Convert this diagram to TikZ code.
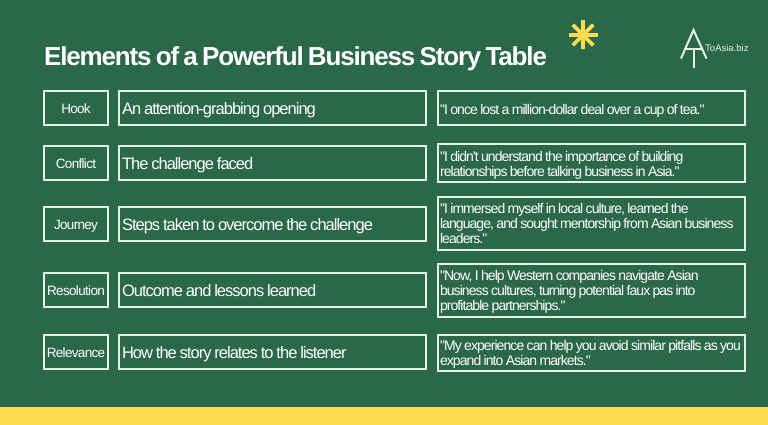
\documentclass[tikz,border=0pt]{standalone}
\usepackage{fontspec}
\setmainfont{Liberation Sans}
\newfontfamily\titlefont[LetterSpace=-4.5,WordSpace=0.7]{Liberation Sans Bold}
\newfontfamily\midfont[LetterSpace=-6,WordSpace=0.8]{Liberation Sans}
\newfontfamily\quotefont[LetterSpace=-6.6,WordSpace=0.8]{Liberation Sans}
\newfontfamily\tagfont[LetterSpace=-5]{Liberation Sans}
\definecolor{bggreen}{HTML}{2A6849}
\definecolor{barline}{HTML}{E4F1E6}
\definecolor{sunny}{HTML}{FFDD4F}
\tikzset{
  x=1pt,y=-1pt,
  cell/.style={draw=barline,line width=1.5pt,inner ysep=0pt,inner xsep=2pt,outer sep=0pt,anchor=north west,text=white},
  tagcell/.style={cell,text width=60pt,align=center,minimum width=64pt,minimum height=34pt,text height=10.6pt,text depth=0pt,font=\tagfont\fontsize{13.5}{16}\selectfont},
  midcell/.style={cell,inner xsep=3pt,text width=301pt,align=flush left,minimum width=307pt,minimum height=34pt,text height=12.6pt,text depth=0pt,font=\midfont\fontsize{16.5}{20}\selectfont},
  quotecell/.style={cell,text width=303pt,align=flush left,minimum width=307pt,font=\quotefont\fontsize{14}{15}\selectfont},
  spoke/.style={draw=sunny,line width=3.6pt},
  logo/.style={draw=barline,line width=2pt}
}
\begin{document}
\begin{tikzpicture}
\useasboundingbox (0,0) rectangle (768,425);
\fill[bggreen] (0,0) rectangle (768,425);
\fill[sunny] (0,407) rectangle (768,425);
\node[anchor=base west,inner sep=0pt,text=white,font=\titlefont\fontsize{26}{30}\selectfont] (title) at (44,65.5) {Elements of a Powerful Business Story Table};
% asterisk
\coordinate (star) at (583,35);
\foreach \a in {0,45,...,315} \draw[spoke] (star) -- ++(\a:14.5);
% logo
\coordinate (apex) at (693.5,30);
\draw[logo] (681,58.5) -- (apex) -- (706.5,58.5);
\draw[logo] (684,49.5) -- (703,49.5);
\draw[logo] (693.5,49.5) -- (693.5,68.5);
\node[anchor=west,inner sep=0pt,text=barline,font=\fontsize{9.5}{11}\selectfont] (brand) at (705,48.5) {ToAsia.biz};
% column 1
\node[tagcell] (a1) at (44,91) {Hook};
\node[tagcell] (a2) at (44,146) {Conflict};
\node[tagcell] (a3) at (44,207) {Journey};
\node[tagcell] (a4) at (44,273) {Resolution};
\node[tagcell] (a5) at (44,335) {Relevance};
% column 2
\node[midcell] (b1) at (119,91) {An attention-grabbing opening};
\node[midcell] (b2) at (119,146) {The challenge faced};
\node[midcell] (b3) at (119,207) {Steps taken to overcome the challenge};
\node[midcell] (b4) at (119,273) {Outcome and lessons learned};
\node[midcell] (b5) at (119,335) {How the story relates to the listener};
% column 3
\node[quotecell,minimum height=34pt,text height=12pt,text depth=0pt] (c1) at (438,91) {"I once lost a million-dollar deal over a cup of tea."};
\node[quotecell,minimum height=38pt,text height=0pt,text depth=4pt] (c2) at (438,144) {"I didn't understand the importance of building\\relationships before talking business in Asia."};
\node[quotecell,minimum height=53pt,text height=0pt,text depth=20.9pt] (c3) at (438,197) {"I immersed myself in local culture, learned the\\language, and sought mentorship from Asian business\\leaders."};
\node[quotecell,minimum height=53pt,text height=0pt,text depth=19.6pt] (c4) at (438,264) {"Now, I help Western companies navigate Asian\\business cultures, turning potential faux pas into\\profitable partnerships."};
\node[quotecell,minimum height=36pt,text height=0pt,text depth=6pt] (c5) at (438,335) {"My experience can help you avoid similar pitfalls as you\\expand into Asian markets."};
\end{tikzpicture}
\end{document}
